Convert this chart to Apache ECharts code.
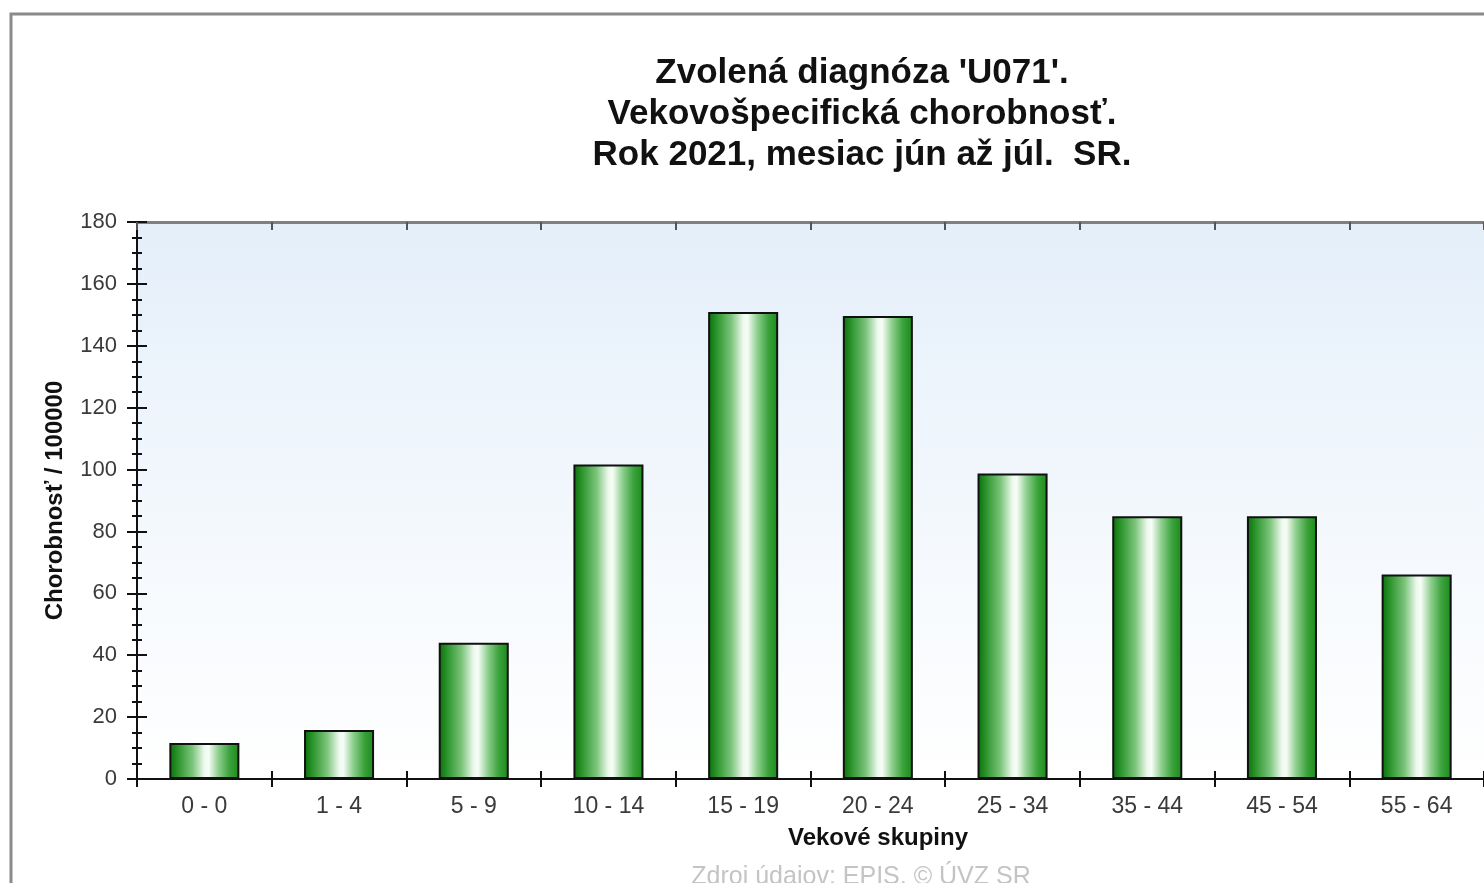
<!DOCTYPE html>
<html>
<head>
<meta charset="utf-8">
<script src="https://cdn.jsdelivr.net/npm/echarts@6/dist/echarts.min.js"></script>
<style>
	html, body { margin: 0; padding: 0; background: #fff; }
	#chart { width: 1484px; height: 883px; }
</style>
</head>
<body>
<div id="chart"></div>
<script>
// vekove skupiny
var categories = ['0 - 0', '1 - 4', '5 - 9', '10 - 14', '15 - 19', '20 - 24', '25 - 34', '35 - 44', '45 - 54', '55 - 64'];
// chorobnost na 100000
var values = [11.6, 15.8, 44, 101.6, 150.9, 149.6, 98.7, 84.9, 84.9, 66.1];
var yTicks = [0, 20, 40, 60, 80, 100, 120, 140, 160, 180];
var titleLines = ["Zvolená diagnóza 'U071'.", 'Vekovošpecifická chorobnosť.', 'Rok 2021, mesiac jún až júl.  SR.'];

var myChart = echarts.init(document.getElementById('chart'));

var barFill = new echarts.graphic.LinearGradient(0, 0, 1, 0, [
	{ offset: 0, color: '#0a6e0a' },
	{ offset: 0.12, color: '#2b942b' },
	{ offset: 0.33, color: '#7cc47c' },
	{ offset: 0.5, color: '#eef9ee' },
	{ offset: 0.56, color: '#f7fdf7' },
	{ offset: 0.7, color: '#8fcf8f' },
	{ offset: 0.86, color: '#3aa23a' },
	{ offset: 1, color: '#1a8a1a' }
]);

var labelFont = 'Liberation Sans, Arial, sans-serif';

var option = {
	animation: false,
	textStyle: { fontFamily: labelFont },
	graphic: [
		{
			// ramik okolo celeho obrazku
			type: 'rect', z: -10, silent: true,
			shape: { x: 11, y: 14, width: 2000, height: 2000 },
			style: { fill: 'none', stroke: '#8a8a8a', lineWidth: 3 }
		},
		{
			type: 'text', x: 862, y: 114,
			style: {
				text: titleLines.join('\n'),
				font: 'bold 35px ' + labelFont,
				fill: '#111',
				textAlign: 'center',
				textVerticalAlign: 'middle',
				lineHeight: 41
			}
		},
		{
			type: 'text', x: 878, y: 838,
			style: {
				text: 'Vekové skupiny',
				font: 'bold 24px ' + labelFont,
				fill: '#111',
				textAlign: 'center',
				textVerticalAlign: 'middle'
			}
		},
		{
			type: 'text', x: 861, y: 865,
			style: {
				text: 'Zdroj údajov: EPIS, © ÚVZ SR',
				font: '25px ' + labelFont,
				fill: '#c4c4c4',
				textAlign: 'center',
				textVerticalAlign: 'top'
			}
		}
	],
	grid: {
		left: 137,
		top: 222,
		width: 1350,
		height: 557,
		show: true,
		borderWidth: 0,
		backgroundColor: {
			type: 'linear', x: 0, y: 0, x2: 0, y2: 1,
			colorStops: [
				{ offset: 0, color: '#e4effa' },
				{ offset: 0.6, color: '#f5f9fd' },
				{ offset: 1, color: '#ffffff' }
			]
		}
	},
	xAxis: [
		{
			type: 'category',
			data: categories,
			position: 'bottom',
			axisLine: { lineStyle: { color: '#111', width: 2 } },
			axisTick: { show: true, length: 8, lineStyle: { color: '#111', width: 2 } },
			axisLabel: { fontSize: 23, color: '#3a3a3a', margin: 16 },
			splitLine: { show: false }
		},
		{
			type: 'category',
			data: categories,
			position: 'bottom',
			axisLine: { show: false },
			axisTick: { show: true, inside: true, length: 8, lineStyle: { color: '#111', width: 2 } },
			axisLabel: { show: false },
			splitLine: { show: false }
		},
		{
			type: 'category',
			data: categories,
			position: 'top',
			axisLine: { lineStyle: { color: '#808080', width: 3 } },
			axisTick: { show: true, inside: true, length: 8, lineStyle: { color: '#555', width: 2 } },
			axisLabel: { show: false },
			splitLine: { show: false }
		}
	],
	yAxis: [
		{
			type: 'value',
			min: yTicks[0],
			max: yTicks[yTicks.length - 1],
			interval: 20,
			position: 'left',
			name: 'Chorobnosť / 100000',
			nameLocation: 'middle',
			nameGap: 70,
			nameTextStyle: { fontSize: 24, fontWeight: 'bold', color: '#111' },
			axisLine: { show: true, lineStyle: { color: '#111', width: 2 } },
			axisTick: { show: true, length: 10, lineStyle: { color: '#111', width: 2 } },
			minorTick: { show: true, splitNumber: 4, length: 5, lineStyle: { color: '#111', width: 2 } },
			axisLabel: { fontSize: 22, color: '#3a3a3a', margin: 20 },
			splitLine: { show: false }
		},
		{
			type: 'value',
			min: yTicks[0],
			max: yTicks[yTicks.length - 1],
			interval: 20,
			position: 'left',
			axisLine: { show: false },
			axisTick: { show: true, inside: true, length: 10, lineStyle: { color: '#111', width: 2 } },
			minorTick: { show: true, splitNumber: 4, length: 5, lineStyle: { color: '#111', width: 2 } },
			axisLabel: { show: false },
			splitLine: { show: false }
		}
	],
	series: [{
		name: 'Chorobnosť',
		type: 'bar',
		xAxisIndex: 0,
		yAxisIndex: 0,
		data: values,
		barWidth: '52%',
		itemStyle: {
			color: barFill,
			borderColor: '#111',
			borderWidth: 2
		}
	}]
};
myChart.setOption(option);
</script>
</body>
</html>
